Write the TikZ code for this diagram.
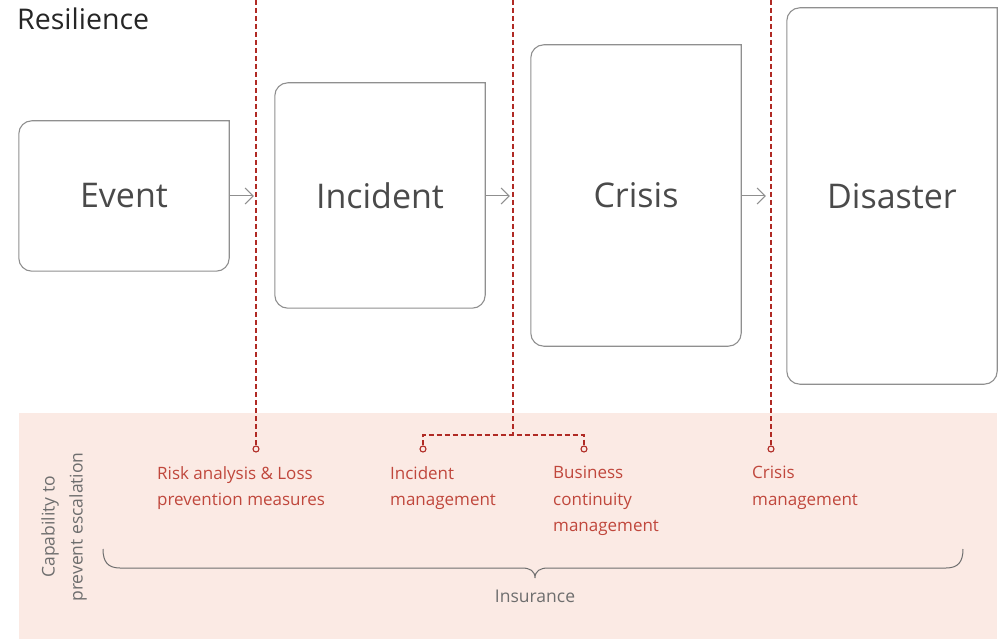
\documentclass[tikz,border=0pt]{standalone}
\usepackage{fontspec}
\setmainfont{Open Sans}
\usetikzlibrary{arrows.meta}
\definecolor{boxgray}{HTML}{8F8F8F}
\definecolor{txtgray}{HTML}{4A4A4A}
\definecolor{midgray}{HTML}{6E6E6E}
\definecolor{dred}{HTML}{B02A24}
\definecolor{lred}{HTML}{C0473C}
\definecolor{pinkbg}{HTML}{FBEAE4}
\tikzset{
  stagebox/.style={draw=none, minimum width=210pt, inner sep=0pt, font=\fontsize{34}{40}\selectfont, text=txtgray},
  outline/.style={draw=boxgray, line width=1.1pt, rounded corners=13pt, line cap=rect},
  flowarrow/.style={draw=boxgray, line width=1pt, -{Straight Barb[length=8pt,width=16pt,line width=1pt]}},
  reddash/.style={draw=dred, line width=1.2pt, dash pattern=on 5pt off 3pt},
  endpoint/.style={circle, draw=dred, line width=1.1pt, fill=pinkbg, inner sep=0pt, minimum size=6pt},
  redlabel/.style={anchor=north west, inner sep=0pt, align=left, text=lred, font=\fontsize{17}{26.5}\selectfont},
  graylabel/.style={inner sep=0pt, align=center, text=midgray, font=\fontsize{17.5}{28}\selectfont},
}
\begin{document}
\begin{tikzpicture}[x=1pt, y=-1pt]
\useasboundingbox (0,0) rectangle (1002,639);
\fill[white] (0,0) rectangle (1002,639);
% band
\fill[pinkbg] (19,413) rectangle (997,639);
% title
\node[anchor=base west, inner sep=0pt, text=black!85, font=\fontsize{28.5}{32}\selectfont] (title) at (17,30) {Resilience};
% boxes
\node[stagebox, minimum height=150pt] (ev) at (124,196) {Event};
\node[stagebox, minimum height=225pt] (inc) at (380,195.5) {Incident};
\node[stagebox, minimum height=301pt] (cri) at (636,195.5) {Crisis};
\node[stagebox, minimum height=376pt] (dis) at (892,196) {Disaster};
\foreach \b in {ev,inc,cri,dis}{
  \draw[outline] (\b.north east) -- (\b.north west) -- (\b.south west) -- (\b.south east) -- (\b.north east);
}
% arrows
\draw[flowarrow, shorten >=21pt] (ev.east) -- (ev.east -| inc.west);
\draw[flowarrow, shorten >=21pt] (inc.east |- ev.east) -- (ev.east -| cri.west);
\draw[flowarrow, shorten >=21pt] (cri.east |- ev.east) -- (ev.east -| dis.west);
% red dashed lines
\coordinate (t1) at (256,0);
\coordinate (t2) at (513,0);
\coordinate (t3) at (771,0);
\coordinate (br) at (513,435);
\node[endpoint] (c1) at (256,449) {};
\node[endpoint] (c2a) at (423,449) {};
\node[endpoint] (c2b) at (584,449) {};
\node[endpoint] (c3) at (771,449) {};
\draw[reddash] (t1) -- (c1);
\draw[reddash] (t2) -- (br);
\draw[reddash] (c2a) |- (br) -| (c2b);
\draw[reddash] (t3) -- (c3);
% labels
\node[redlabel] (l1) at (157,466) {Risk analysis \& Loss\\prevention measures};
\node[redlabel] (l2) at (390,466) {Incident\\management};
\node[redlabel] (l3) at (553,466) {Business\\continuity\\management};
\node[redlabel] (l4) at (752,466) {Crisis\\management};
% vertical label
\node[graylabel, rotate=90] (cap) at (64,527) {Capability to\\prevent escalation};
% brace
\coordinate (bl) at (103,549);
\coordinate (bm) at (535,578);
\coordinate (brr) at (963,549);
\draw[draw=midgray, line width=1pt]
  (bl) .. controls (103,562) and (108,568) .. (120,568)
  -- (522,568) .. controls (530,568) and (535,571) .. (bm)
  .. controls (535,571) and (540,568) .. (548,568)
  -- (946,568) .. controls (958,568) and (963,562) .. (brr);
\node[graylabel] (ins) at (535,596) {Insurance};
\end{tikzpicture}
\end{document}
